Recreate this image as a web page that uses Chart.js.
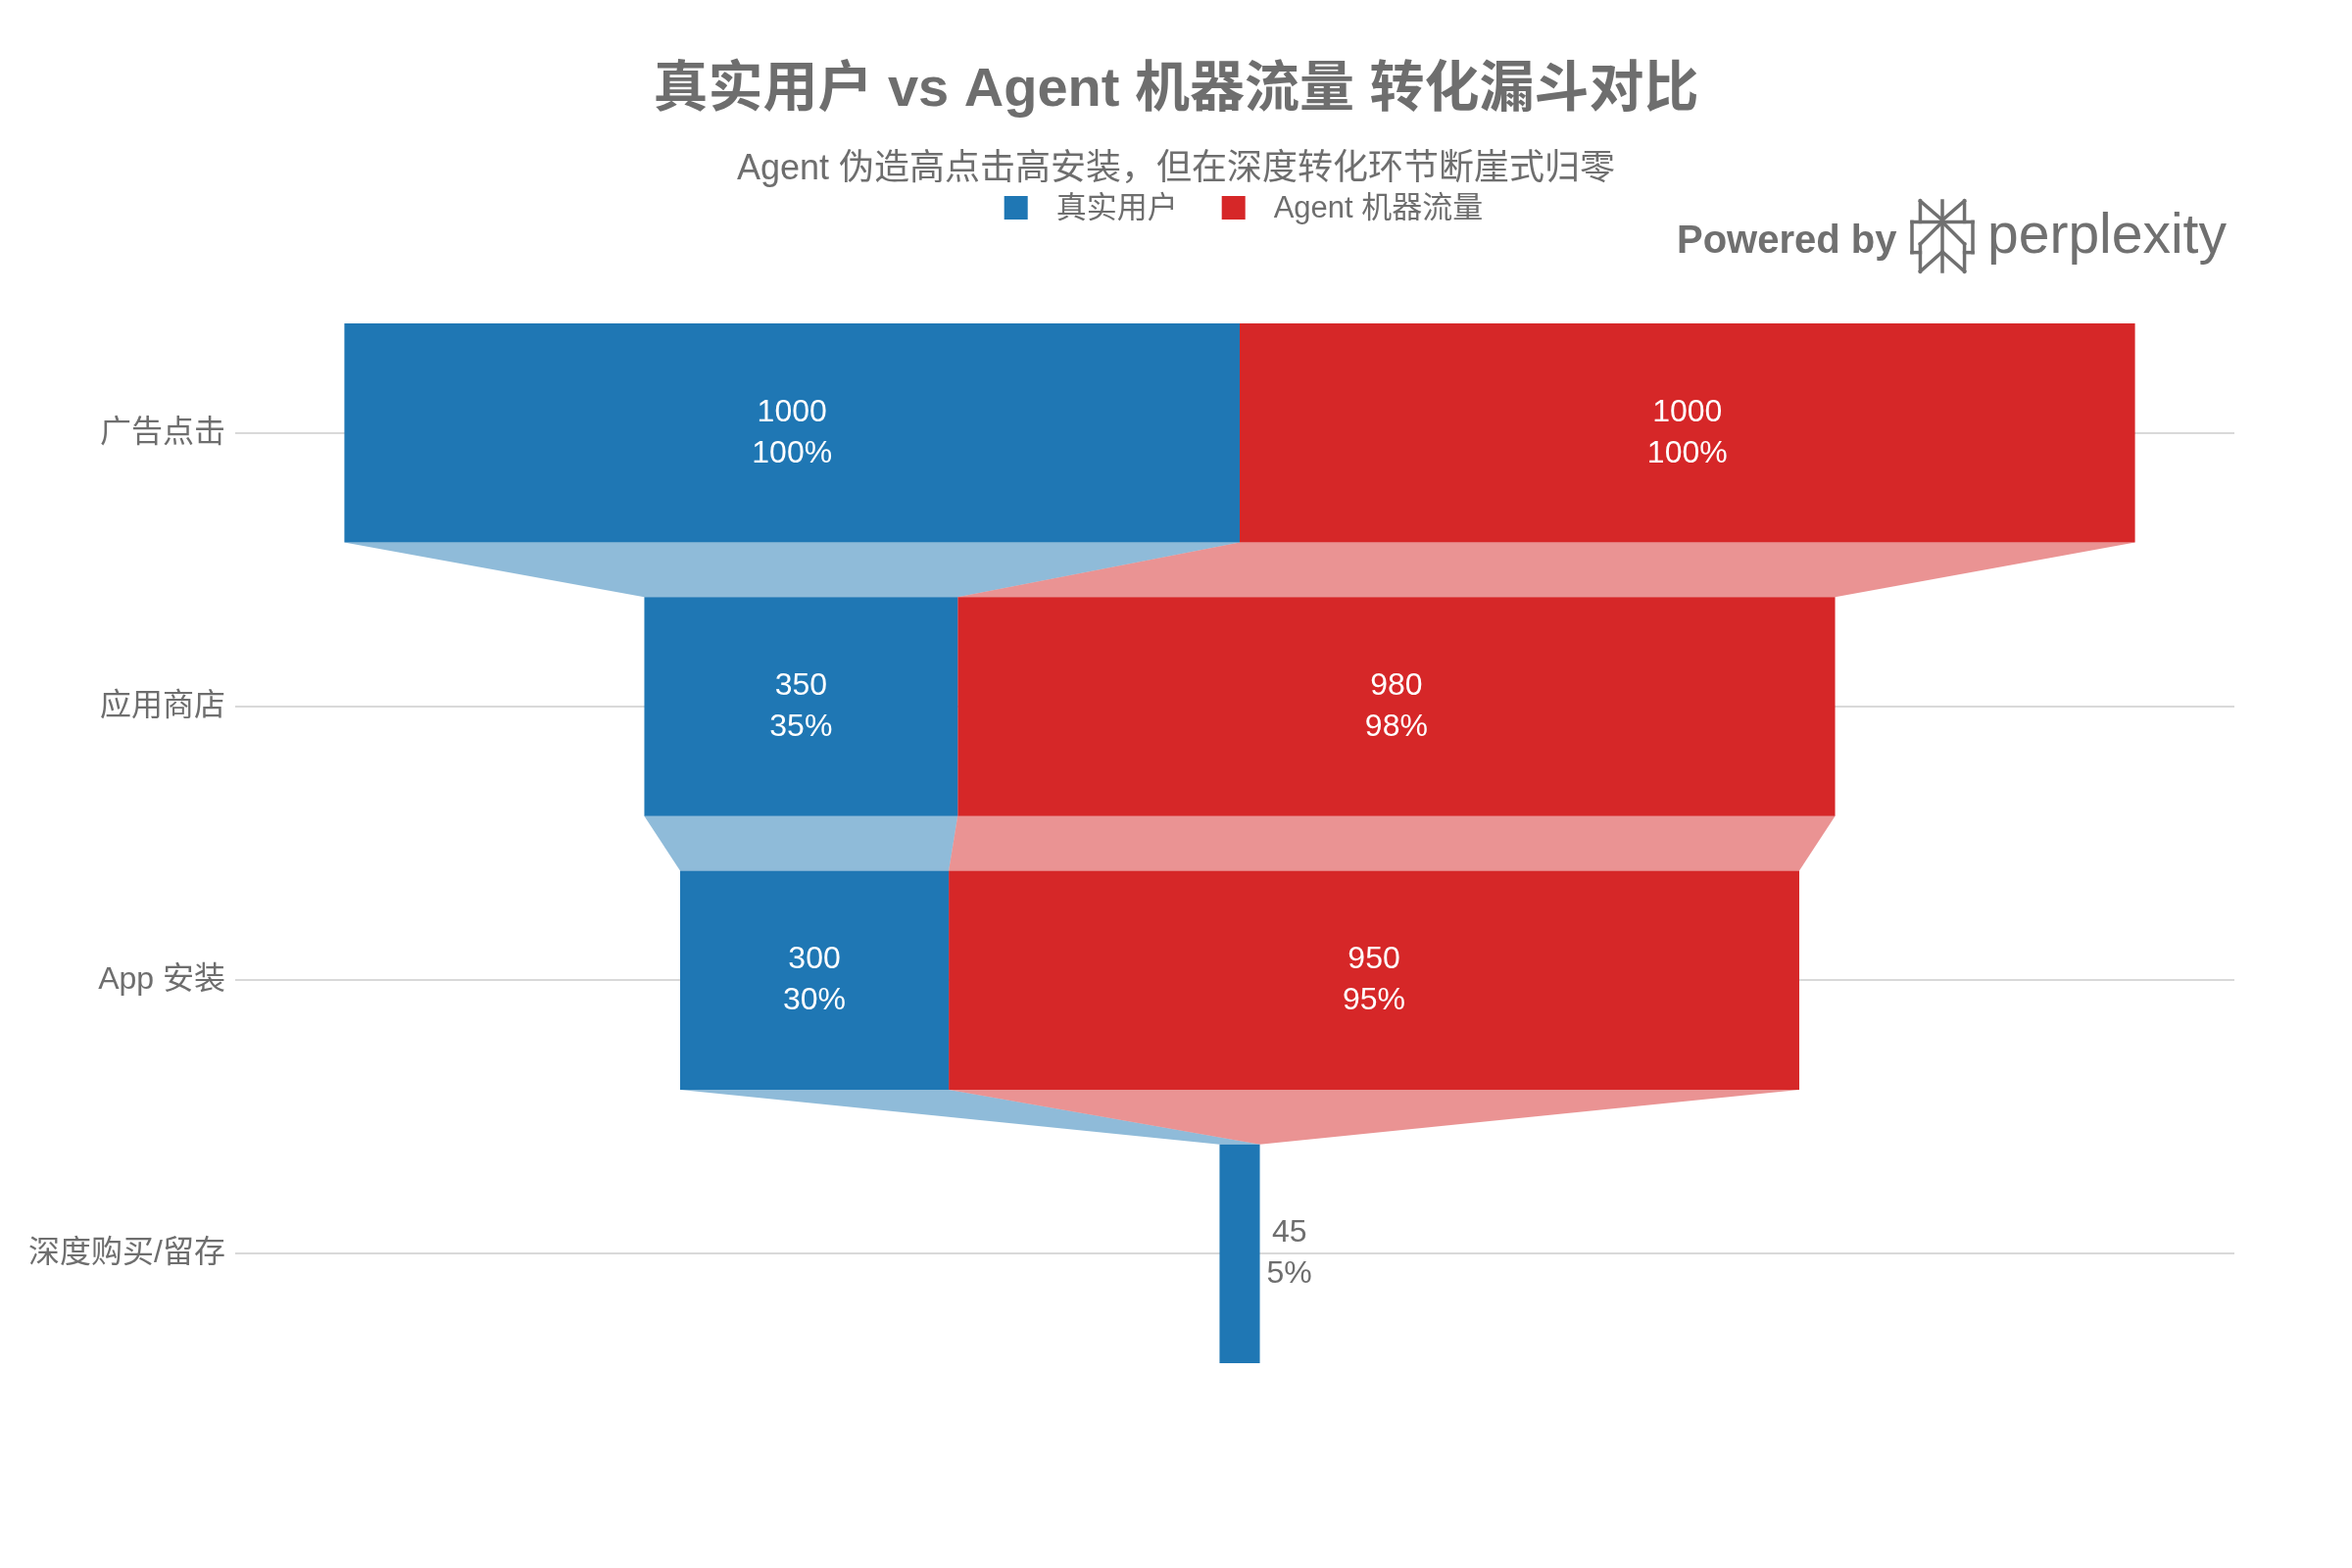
<!DOCTYPE html>
<html lang="zh-CN">
<head>
<meta charset="utf-8">
<title>真实用户 vs Agent 机器流量 转化漏斗对比</title>
<script src="https://cdn.jsdelivr.net/npm/chart.js@4.4.1/dist/chart.umd.min.js"></script>
<style>
    html, body { margin: 0; padding: 0; background: #ffffff; }
    #wrap { width: 2400px; height: 1600px; position: relative; }
</style>
</head>
<body>
<div id="wrap"><canvas id="funnelChart"></canvas></div>
<script>
// Funnel data
const stages = ['广告点击', '应用商店', 'App 安装', '深度购买/留存'];
const realUsers = [1000, 350, 300, 45];
const agentTraffic = [1000, 980, 950, 0];
const seriesNames = ['真实用户', 'Agent 机器流量'];

const FONT = '"Liberation Sans", "Noto Sans CJK SC", sans-serif';
const GREY = '#6e6e6e';
const BLUE = '#1f77b4';
const RED = '#d62728';
const BLUE_LIGHT = 'rgba(31, 119, 180, 0.5)';
const RED_LIGHT = 'rgba(214, 39, 40, 0.5)';

// Stack both series and centre each stage on zero, like a funnel
const blueRanges = [];
const redRanges = [];
stages.forEach((s, i) => {
    const total = realUsers[i] + agentTraffic[i];
    const start = -total / 2;
    blueRanges.push([start, start + realUsers[i]]);
    redRanges.push([start + realUsers[i], start + total]);
});

const seriesValues = [realUsers, agentTraffic];
const lightColors = [BLUE_LIGHT, RED_LIGHT];

// Light trapezoids between consecutive bars of a series
const connectorPlugin = {
    id: 'connectors',
    beforeDatasetsDraw(chart) {
        const ctx = chart.ctx;
        chart.data.datasets.forEach((ds, d) => {
            const bars = chart.getDatasetMeta(d).data;
            for (let i = 0; i < bars.length - 1; i++) {
                const a = bars[i], b = bars[i + 1];
                const aL = Math.min(a.x, a.base), aR = Math.max(a.x, a.base);
                const bL = Math.min(b.x, b.base), bR = Math.max(b.x, b.base);
                const aY = a.y + a.height / 2;
                const bY = b.y - b.height / 2;
                ctx.save();
                ctx.fillStyle = lightColors[d];
                ctx.beginPath();
                ctx.moveTo(aL, aY);
                ctx.lineTo(aR, aY);
                ctx.lineTo(bR, bY);
                ctx.lineTo(bL, bY);
                ctx.closePath();
                ctx.fill();
                ctx.restore();
            }
        });
    }
};

// Value + percent-of-initial labels
const labelPlugin = {
    id: 'funnelLabels',
    afterDatasetsDraw(chart) {
        const ctx = chart.ctx;
        ctx.save();
        ctx.font = '32px ' + FONT;
        ctx.textBaseline = 'middle';
        ctx.textAlign = 'center';
        chart.data.datasets.forEach((ds, d) => {
            const values = seriesValues[d];
            chart.getDatasetMeta(d).data.forEach((bar, i) => {
                const v = values[i];
                if (!v) return;
                const lines = [String(v), Math.round(v / values[0] * 100) + '%'];
                const left = Math.min(bar.x, bar.base);
                const right = Math.max(bar.x, bar.base);
                let cx = (left + right) / 2;
                ctx.fillStyle = '#ffffff';
                if (right - left < 90) {
                    const w = Math.max(...lines.map(t => ctx.measureText(t).width));
                    cx = right + 7 + w / 2;
                    ctx.fillStyle = GREY;
                }
                ctx.fillText(lines[0], cx, bar.y - 21);
                ctx.fillText(lines[1], cx, bar.y + 21);
            });
        });
        ctx.restore();
    }
};

// Legend centred over the plot area, plus the watermark
const headerPlugin = {
    id: 'header',
    afterDraw(chart) {
        const ctx = chart.ctx;
        const area = chart.chartArea;
        ctx.save();

        // legend
        ctx.font = '31px ' + FONT;
        ctx.textBaseline = 'middle';
        ctx.textAlign = 'left';
        const box = 24, gapText = 29, gapItem = 45;
        const widths = seriesNames.map(t => ctx.measureText(t).width);
        const total = widths.reduce((s, w) => s + box + gapText + w, 0) + gapItem;
        let x = (area.left + area.right) / 2 - total / 2 + 4;
        const y = 212;
        chart.data.datasets.forEach((ds, d) => {
            ctx.fillStyle = ds.backgroundColor;
            ctx.fillRect(x, y - box / 2, box, box);
            ctx.fillStyle = GREY;
            ctx.fillText(seriesNames[d], x + box + gapText, y + 1);
            x += box + gapText + widths[d] + gapItem;
        });

        // watermark
        ctx.fillStyle = '#707070';
        ctx.textBaseline = 'alphabetic';
        ctx.font = 'bold 40px ' + FONT;
        ctx.fillText('Powered by', 1711, 258);
        ctx.font = '57px ' + FONT;
        ctx.fillText('perplexity', 2028, 258);

        // logo, drawn with strokes in a 64..336 x 42..358 box
        const ox = 1951, oy = 205, sx = 62 / 272, sy = 72 / 316;
        const P = (px, py) => [ox + (px - 64) * sx, oy + (py - 42) * sy];
        const segs = [
            [[200, 42], [200, 358]],
            [[101, 42], [101, 136]], [[101, 42], [200, 128]],
            [[299, 42], [299, 136]], [[299, 42], [200, 128]],
            [[64, 136], [336, 136]],
            [[64, 136], [64, 273]], [[336, 136], [336, 273]],
            [[64, 273], [101, 273]], [[299, 273], [336, 273]],
            [[200, 136], [101, 235]], [[101, 235], [101, 358]], [[101, 358], [200, 270]],
            [[200, 136], [299, 235]], [[299, 235], [299, 358]], [[299, 358], [200, 270]]
        ];
        ctx.strokeStyle = '#707070';
        ctx.lineWidth = 3.5;
        ctx.lineCap = 'square';
        segs.forEach(s => {
            const a = P(s[0][0], s[0][1]), b = P(s[1][0], s[1][1]);
            ctx.beginPath();
            ctx.moveTo(a[0], a[1]);
            ctx.lineTo(b[0], b[1]);
            ctx.stroke();
        });
        ctx.restore();
    }
};

new Chart(document.getElementById('funnelChart'), {
    type: 'bar',
    data: {
        labels: stages,
        datasets: [
            {
                label: seriesNames[0],
                data: blueRanges,
                backgroundColor: BLUE,
                borderWidth: 0,
                grouped: false,
                barPercentage: 0.8,
                categoryPercentage: 1.0
            },
            {
                label: seriesNames[1],
                data: redRanges,
                backgroundColor: RED,
                borderWidth: 0,
                grouped: false,
                barPercentage: 0.8,
                categoryPercentage: 1.0
            }
        ]
    },
    options: {
        indexAxis: 'y',
        responsive: true,
        maintainAspectRatio: false,
        animation: false,
        layout: {
            padding: { left: 20, right: 20, top: 0, bottom: 181 }
        },
        plugins: {
            legend: { display: false },
            tooltip: { enabled: false },
            title: {
                display: true,
                text: '真实用户 vs Agent 机器流量 转化漏斗对比',
                color: GREY,
                font: { family: FONT, size: 56, weight: 'bold', lineHeight: 1.2 },
                padding: { top: 59, bottom: 0 }
            },
            subtitle: {
                display: true,
                text: 'Agent 伪造高点击高安装，但在深度转化环节断崖式归零',
                color: GREY,
                font: { family: FONT, size: 36, lineHeight: 1.2 },
                padding: { top: 25, bottom: 107.8 }
            }
        },
        scales: {
            x: {
                display: false,
                min: -1111,
                max: 1111
            },
            y: {
                afterFit: function (scale) {
                    scale.width = 230;
                },
                border: { display: false },
                grid: {
                    offset: false,
                    color: '#d9d9d9',
                    lineWidth: 2,
                    drawTicks: true,
                    tickLength: 10
                },
                ticks: {
                    color: GREY,
                    padding: 10,
                    font: { family: FONT, size: 32 }
                }
            },
            // empty right-hand axis, only there to keep the plot area off the right edge
            yRight: {
                type: 'category',
                position: 'right',
                afterFit: function (scale) {
                    scale.width = 100;
                },
                border: { display: false },
                grid: { display: false },
                ticks: { display: false }
            }
        }
    },
    plugins: [connectorPlugin, labelPlugin, headerPlugin]
});
</script>
</body>
</html>
